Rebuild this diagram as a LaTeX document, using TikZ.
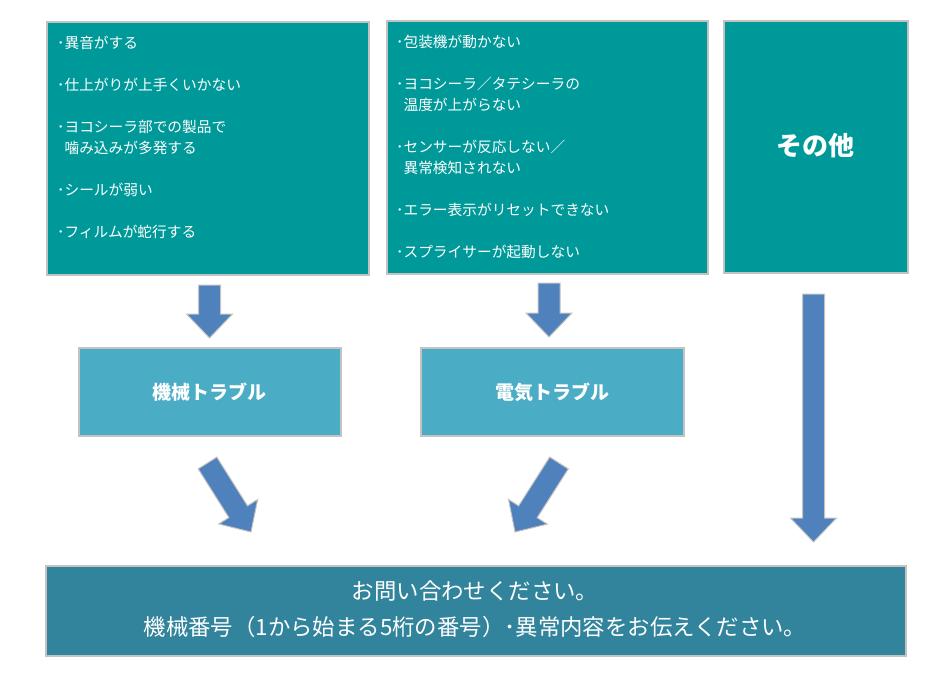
\documentclass[tikz,border=0pt]{standalone}
\usepackage{fontspec}
\setmainfont{Noto Sans CJK JP}
\usetikzlibrary{calc}
\definecolor{topteal}{RGB}{0,153,153}
\definecolor{midblue}{RGB}{75,172,198}
\definecolor{botblue}{RGB}{49,132,155}
\definecolor{arrowblue}{RGB}{79,129,189}
\definecolor{edgegray}{RGB}{195,195,195}
\newcommand\fatarrow[2]{%
  \coordinate (#1-h) at ($(#2)!24pt!(#1)$);
  \filldraw[fatarrowstyle]
    ($(#1)!11pt!90:(#2)$) -- ($(#1-h)!11pt!90:(#2)$) -- ($(#1-h)!23pt!90:(#2)$)
    -- (#2) -- ($(#1-h)!23pt!-90:(#2)$) -- ($(#1-h)!11pt!-90:(#2)$)
    -- ($(#1)!11pt!-90:(#2)$) -- cycle;}
\begin{document}
\begin{tikzpicture}[x=1pt,y=-1pt,
  topbox/.style={fill=topteal, draw=edgegray, line width=1.8pt, anchor=north west, inner sep=0pt},
  midbox/.style={fill=midblue, draw=edgegray, line width=1.8pt, anchor=north west, inner sep=0pt},
  botbox/.style={fill=botblue, draw=edgegray, line width=1.8pt, anchor=north west, inner sep=0pt},
  listtext/.style={text=white, align=left, anchor=north west, inner sep=0pt, font=\fontsize{14.7}{21}\selectfont},
  titletext/.style={text=white, font=\bfseries\fontsize{19}{22}\selectfont},
  fatarrowstyle/.style={fill=arrowblue, draw=edgegray, line width=1pt, line join=miter}]
\useasboundingbox (0,0) rectangle (950,680);
% top boxes
\node[topbox, minimum width=322pt, minimum height=253pt] (b1) at (46,21) {};
\node[topbox, minimum width=321pt, minimum height=253pt] (b2) at (386,20) {};
\node[topbox, minimum width=184pt, minimum height=252pt] (b3) at (723,20) {};
\node[listtext] (t1) at (57,36) {･異音がする\\[21pt]
･仕上がりが上手くいかない\\[21pt]
･ヨコシーラ部での製品で\\
\hphantom{･}噛み込みが多発する\\[21pt]
･シールが弱い\\[21pt]
･フィルムが蛇行する};
\node[listtext] (t2) at (396,35) {･包装機が動かない\\[21pt]
･ヨコシーラ／タテシーラの\\
\hphantom{･}温度が上がらない\\[21pt]
･センサーが反応しない／\\
\hphantom{･}異常検知されない\\[21pt]
･エラー表示がリセットできない\\[21pt]
･スプライサーが起動しない};
\node[text=white, font=\bfseries\fontsize{26}{30}\selectfont] (t3) at (815,146) {その他};
% middle boxes
\node[midbox, minimum width=262pt, minimum height=88pt] (m1) at (78,347) {};
\node[midbox, minimum width=263pt, minimum height=88pt] (m2) at (420,347) {};
\node[titletext] (mt1) at (m1.center) {機械トラブル};
\node[titletext] (mt2) at (m2.center) {電気トラブル};
% bottom box
\node[botbox, minimum width=860pt, minimum height=90pt] (bb) at (45,565) {};
\node[text=white, align=center, font=\fontsize{22.4}{36}\selectfont] (bt) at (475,609)
  {お問い合わせください。\\機械番号（1から始まる5桁の番号）･異常内容をお伝えください。};
% arrows
\coordinate (a1s) at (209.5,285); \coordinate (a1e) at (209.5,338);
\coordinate (a2s) at (549,283);   \coordinate (a2e) at (549,337);
\coordinate (a3s) at (813.5,294); \coordinate (a3e) at (813.5,542);
\coordinate (a4s) at (207.5,463); \coordinate (a4e) at (251,532);
\coordinate (a5s) at (559,463);   \coordinate (a5e) at (515,532);
\fatarrow{a1s}{a1e}
\fatarrow{a2s}{a2e}
\fatarrow{a3s}{a3e}
\fatarrow{a4s}{a4e}
\fatarrow{a5s}{a5e}
\end{tikzpicture}
\end{document}
